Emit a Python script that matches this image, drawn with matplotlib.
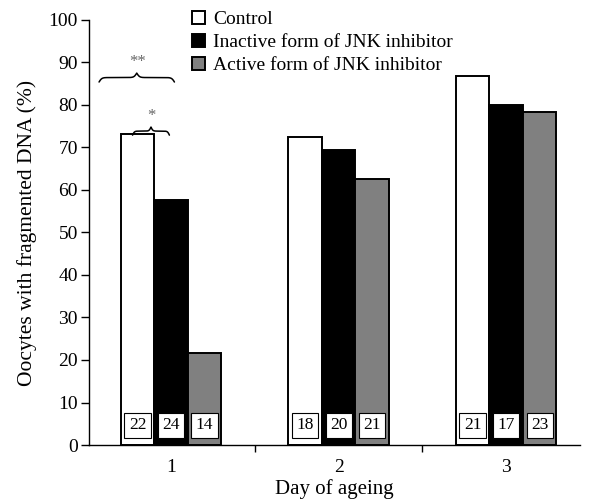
import numpy as np
import matplotlib
matplotlib.use("Agg")
import matplotlib.pyplot as plt

days = [1, 2, 3]
series = ["Control", "Inactive form of JNK inhibitor", "Active form of JNK inhibitor"]
colors = ["white", "black", "#808080"]
control = [73.2, 72.5, 86.9]
inactive = [57.6, 69.5, 80.0]
active = [21.6, 62.5, 78.3]
n_control = [22, 18, 21]
n_inactive = [24, 20, 17]
n_active = [14, 21, 23]

plt.rcParams["font.family"] = ["Liberation Serif", "DejaVu Serif"]
plt.rcParams["font.size"] = 14


def curly_brace(ax, x0, x1, y, height, beta):
    # horizontal curly brace, tip pointing up
    t = np.linspace(0, 0.5, 200)
    half = 1 / (1 + np.exp(-beta * t)) + 1 / (1 + np.exp(-beta * (t - 0.5)))
    half = (half - half[0]) / (half[-1] - half[0])
    yy = np.concatenate([half, half[::-1]])
    xx = np.concatenate([t, 1 - t[::-1]])
    ax.plot(x0 + xx * (x1 - x0), y + yy * height, color="black", lw=1.1,
            clip_on=False, solid_capstyle="round")


fig = plt.figure(figsize=(5.91, 4.99), dpi=100)
ax = fig.add_axes([0.1506, 0.1082, 0.8304, 0.8518])

width = 0.2
x = np.array(days, dtype=float)
bars = []
for i, (vals, counts) in enumerate(zip([control, inactive, active],
                                       [n_control, n_inactive, n_active])):
    pos = x + (i - 1) * width
    b = ax.bar(pos, vals, width=width, color=colors[i], edgecolor="black",
               linewidth=1.4, label=series[i], zorder=2)
    bars.append(b)
    for p, c in zip(pos, counts):
        ax.text(p, 4.6, str(c), ha="center", va="center", fontsize=12.5, zorder=4,
                bbox=dict(boxstyle="square,pad=0.25", facecolor="white",
                          edgecolor="black", linewidth=0.8))

# significance braces on day 1
curly_brace(ax, 0.57, 1.02, 85.4, 2.1, 55)
ax.text(0.80, 90.2, "**", ha="center", va="center", fontsize=12, color="0.4")
curly_brace(ax, 0.77, 0.99, 72.9, 1.9, 40)
ax.text(0.88, 77.4, "*", ha="center", va="center", fontsize=12, color="0.4")

ax.set_xlim(0.51, 3.44)
ax.set_ylim(0, 100)
ax.set_yticks(np.arange(0, 101, 10))
ax.set_xticks([1.5, 2.5])
ax.set_xticklabels([])
ax.set_xticks(days, minor=True)
ax.set_xticklabels([str(d) for d in days], minor=True)
ax.tick_params(axis="x", which="minor", length=0, pad=10)
ax.tick_params(axis="x", which="major", direction="out", length=5, width=1)
ax.tick_params(axis="y", direction="out", length=6, width=1, pad=2)

for s in ["top", "right"]:
    ax.spines[s].set_visible(False)
for s in ["left", "bottom"]:
    ax.spines[s].set_linewidth(1.0)

ax.set_xlabel("Day of ageing", fontsize=15, labelpad=2)
ax.set_ylabel("Oocytes with fragmented DNA (%)", fontsize=15.5, labelpad=8)

ax.legend(handles=bars, loc="upper left", bbox_to_anchor=(192 / 591, 1 - 11 / 499),
          bbox_transform=fig.transFigure, frameon=False, borderaxespad=0,
          borderpad=0, handlelength=0.65, handleheight=0.65, handletextpad=0.45,
          labelspacing=0.28, fontsize=14)

fig.savefig("out.png", dpi=100)
